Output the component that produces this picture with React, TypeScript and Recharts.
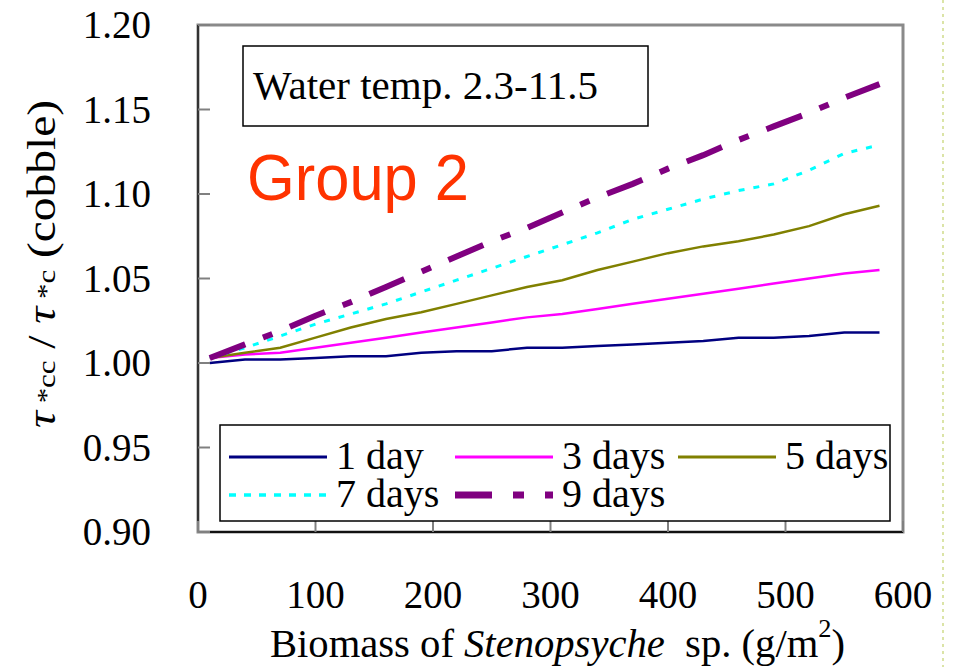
import React from 'react';
import { LineChart, Line, XAxis, YAxis, ReferenceArea } from 'recharts';

// Biomass of Stenopsyche sp. (g/m2)
const biomass = [10, 40, 70, 100, 130, 160, 190, 220, 250, 280, 310, 340, 370, 400, 430, 460, 490, 520, 550, 580];

const day1 = [1.000, 1.002, 1.002, 1.003, 1.004, 1.004, 1.006, 1.007, 1.007, 1.009, 1.009, 1.010, 1.011, 1.012, 1.013, 1.015, 1.015, 1.016, 1.018, 1.018];
const day3 = [1.003, 1.005, 1.006, 1.009, 1.012, 1.015, 1.018, 1.021, 1.024, 1.027, 1.029, 1.032, 1.035, 1.038, 1.041, 1.044, 1.047, 1.050, 1.053, 1.055];
const day5 = [1.003, 1.006, 1.009, 1.015, 1.021, 1.026, 1.030, 1.035, 1.040, 1.045, 1.049, 1.055, 1.060, 1.065, 1.069, 1.072, 1.076, 1.081, 1.088, 1.093];
const day7 = [1.003, 1.009, 1.016, 1.023, 1.029, 1.035, 1.042, 1.049, 1.056, 1.063, 1.070, 1.077, 1.085, 1.091, 1.097, 1.102, 1.106, 1.114, 1.124, 1.129];
const day9 = [1.003, 1.011, 1.019, 1.028, 1.036, 1.045, 1.054, 1.063, 1.072, 1.080, 1.089, 1.098, 1.106, 1.115, 1.123, 1.132, 1.140, 1.148, 1.157, 1.165];

const seriesKeys = ['d1', 'd3', 'd5', 'd7', 'd9'];
const seriesNames = ['1 day', '3 days', '5 days', '7 days', '9 days'];
const seriesValues = [day1, day3, day5, day7, day9];
const seriesColors = ['#000080', '#FF00FF', '#808000', '#00FFFF', '#800080'];
const seriesWidths = [2.5, 2.5, 2.5, 3, 6];
const seriesDashes: (string | undefined)[] = [undefined, undefined, undefined, '6 9', '38 19 10 19'];

const xTicks = [0, 100, 200, 300, 400, 500, 600];
const yTicks = [0.9, 0.95, 1.0, 1.05, 1.1, 1.15, 1.2];

const data = biomass.map((b, i) => {
  const row: any = { x: b };
  seriesKeys.forEach((k, j) => {
    row[k] = seriesValues[j][i];
  });
  return row;
});

const SERIF = '"Liberation Serif", "Times New Roman", serif';
const SANS = '"Liberation Sans", Arial, sans-serif';

const XTick = (props: any) => {
  const { x, y, payload } = props;
  return (
    <g>
      <line x1={x} x2={x} y1={y} y2={y - 11} stroke="#808080" strokeWidth={2} />
      <text x={x} y={y + 76} textAnchor="middle" fontFamily={SERIF} fontSize={39} fill="#000">
        {payload.value}
      </text>
    </g>
  );
};

const YTick = (props: any) => {
  const { x, y, payload } = props;
  return (
    <g>
      <line x1={x} x2={x + 12} y1={y} y2={y} stroke="#808080" strokeWidth={2} />
      <text x={x - 47} y={y + 13} textAnchor="end" fontFamily={SERIF} fontSize={39} fill="#000">
        {Number(payload.value).toFixed(2)}
      </text>
    </g>
  );
};

const legendCols = [229, 455, 678];
const legendRows = [457, 495];

export default function App() {
  return (
    <div style={{ position: 'absolute', left: 0, top: 0, width: 953, height: 667, background: '#fff' }}>
      <LineChart
        width={953}
        height={667}
        data={data}
        margin={{ top: 25, right: 50, bottom: 0, left: 0 }}
      >
        <ReferenceArea x1={0} x2={600} y1={0.9} y2={1.2} fill="none" stroke="#8a8a8a" strokeWidth={3} ifOverflow="visible" />
        <XAxis
          dataKey="x"
          type="number"
          domain={[0, 600]}
          ticks={xTicks}
          height={135}
          tickSize={0}
          tickMargin={0}
          tickLine={false}
          axisLine={{ stroke: '#111', strokeWidth: 2 }}
          tick={<XTick />}
          interval={0}
        />
        <YAxis
          type="number"
          domain={[0.9, 1.2]}
          ticks={yTicks}
          width={198}
          tickSize={0}
          tickMargin={0}
          tickLine={false}
          axisLine={{ stroke: '#333', strokeWidth: 2 }}
          tick={<YTick />}
          interval={0}
          allowDataOverflow
        />
        {seriesKeys.map((k, j) => (
          <Line
            key={k}
            dataKey={k}
            name={seriesNames[j]}
            type="linear"
            stroke={seriesColors[j]}
            strokeWidth={seriesWidths[j]}
            strokeDasharray={seriesDashes[j]}
            strokeLinecap="butt"
            dot={false}
            activeDot={false}
            isAnimationActive={false}
          />
        ))}
      </LineChart>
      <svg
        width={953}
        height={667}
        style={{ position: 'absolute', left: 0, top: 0, pointerEvents: 'none' }}
      >
        {/* slide edge */}
        <line x1={943} x2={943} y1={0} y2={667} stroke="#cfdc8a" strokeWidth={1.5} strokeDasharray="3 4" />
        {/* annotation box */}
        <rect x={243} y={46} width={405} height={80} fill="#fff" stroke="#000" strokeWidth={1.5} />
        <text x={253} y={99} fontFamily={SERIF} fontSize={40} fill="#000" textLength={345} lengthAdjust="spacingAndGlyphs">
          Water temp. 2.3-11.5
        </text>
        <text x={247} y={200} fontFamily={SANS} fontSize={65} fill="#FF3300" textLength={222} lengthAdjust="spacingAndGlyphs">
          Group 2
        </text>
        {/* y label */}
        <text
          transform="translate(55,428) rotate(-90)"
          fontFamily={SERIF}
          fontSize={40}
          fill="#000"
          style={{ whiteSpace: 'pre' }}
          textLength={328}
          lengthAdjust="spacingAndGlyphs"
        >
          <tspan fontStyle="italic">τ</tspan>
          <tspan fontSize={26}> *cc</tspan>
          <tspan> / </tspan>
          <tspan fontStyle="italic">τ</tspan>
          <tspan fontSize={26}> *c</tspan>
          <tspan> (cobble)</tspan>
        </text>
        {/* x label */}
        <text
          x={270}
          y={657}
          fontFamily={SERIF}
          fontSize={40}
          fill="#000"
          style={{ whiteSpace: 'pre' }}
          textLength={575}
          lengthAdjust="spacingAndGlyphs"
        >
          <tspan>Biomass of </tspan>
          <tspan fontStyle="italic">Stenopsyche</tspan>
          <tspan>  sp. (g/m</tspan>
          <tspan fontSize={26} dy={-20}>2</tspan>
          <tspan dy={20}>)</tspan>
        </text>
        {/* legend */}
        <rect x={220} y={425} width={670} height={96} fill="#fff" stroke="#000" strokeWidth={1.5} />
        {seriesNames.map((name, i) => {
          const lx = legendCols[i % 3];
          const ly = legendRows[Math.floor(i / 3)];
          return (
            <g key={name}>
              <line
                x1={lx}
                x2={lx + 98}
                y1={ly}
                y2={ly}
                stroke={seriesColors[i]}
                strokeWidth={i === 4 ? 7 : seriesWidths[i] + 0.5}
                strokeDasharray={i === 4 ? '37 21 11 21' : i === 3 ? '7 8' : undefined}
              />
              <text x={lx + 107} y={ly + 12} fontFamily={SERIF} fontSize={40} fill="#000">
                {name}
              </text>
            </g>
          );
        })}
      </svg>
    </div>
  );
}
